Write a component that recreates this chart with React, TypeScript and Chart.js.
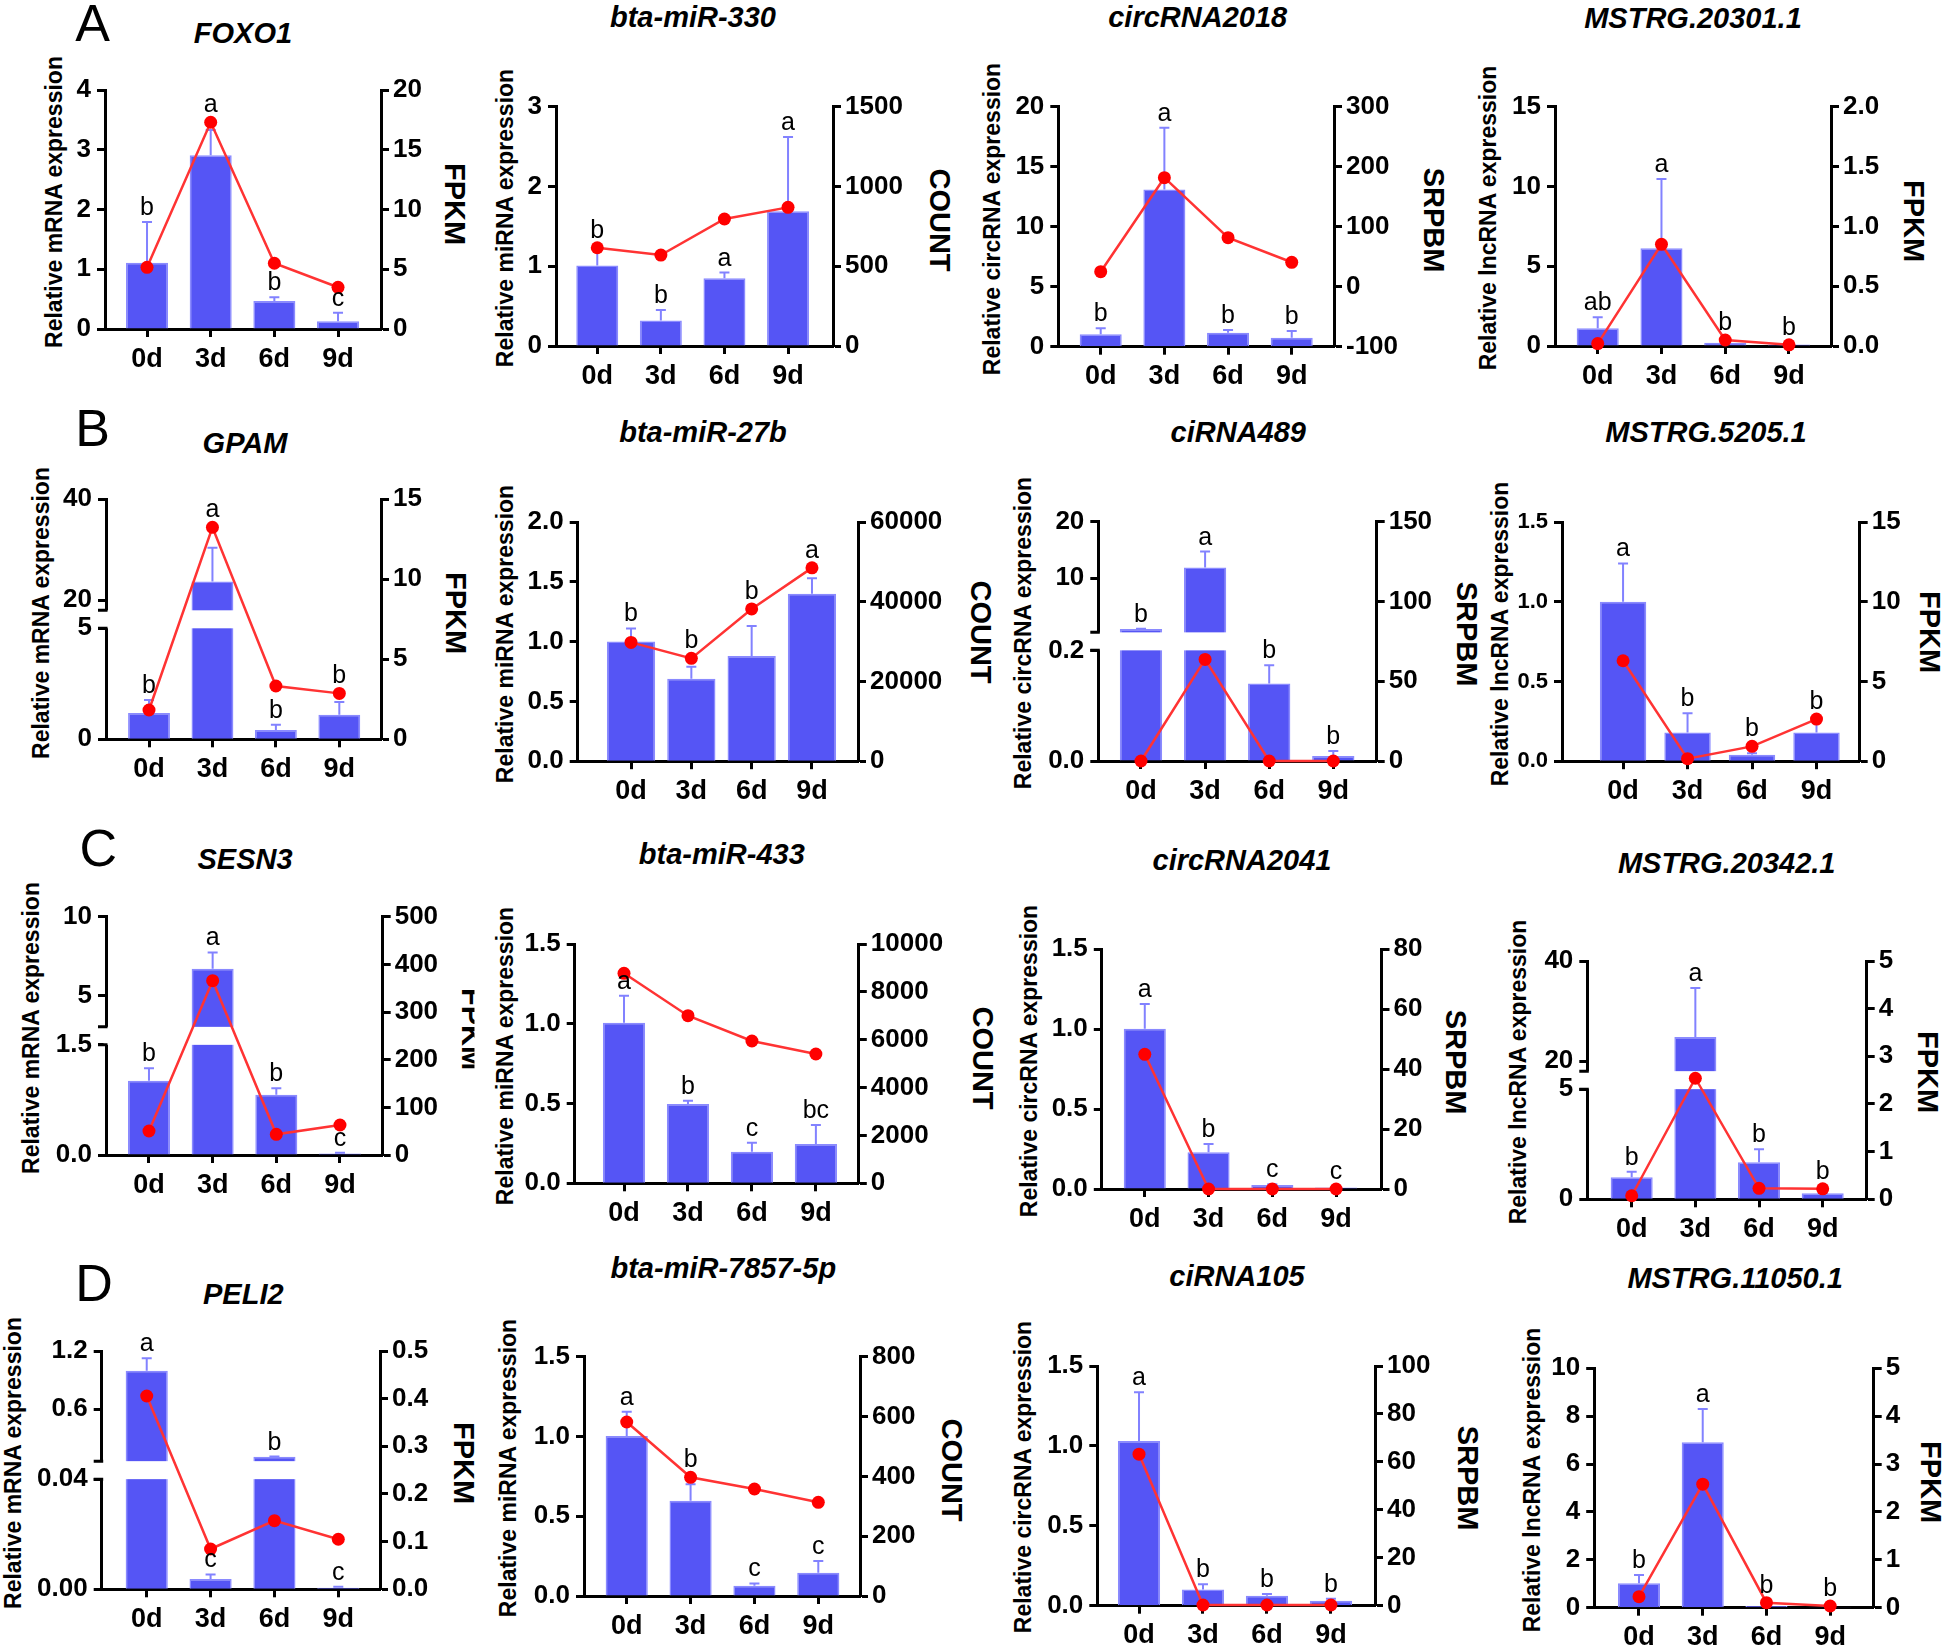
import React, { useEffect, useRef } from 'react';
import { Chart, registerables, LinearScale } from 'chart.js';

Chart.register(...registerables);

/* ---------------- DATA ---------------- */
const CATS = ['0d', '3d', '6d', '9d'];

// Row A
const FOXO1_REL = [1.11, 2.91, 0.47, 0.13];
const FOXO1_SD = [0.68, 0.42, 0.06, 0.14];
const FOXO1_FPKM = [5.16, 17.3, 5.5, 3.49];
const FOXO1_SIG = ['b', 'a', 'b', 'c'];
const FOXO1_YL = ['0', '1', '2', '3', '4'];
const FOXO1_YR = ['0', '5', '10', '15', '20'];

const MIR330_REL = [1.01, 0.32, 0.85, 1.69];
const MIR330_SD = [0.22, 0.13, 0.07, 0.93];
const MIR330_COUNT = [616, 570, 796, 869];
const MIR330_SIG = ['b', 'b', 'a', 'a'];
const MIR330_YL = ['0', '1', '2', '3'];
const MIR330_YR = ['0', '500', '1000', '1500'];

const CIRC2018_REL = [1.03, 13.1, 1.17, 0.75];
const CIRC2018_SD = [0.5, 5.15, 0.22, 0.56];
const CIRC2018_SRPBM = [25, 181.7, 81.7, 40.7];
const CIRC2018_SIG = ['b', 'a', 'b', 'b'];
const CIRC2018_YL = ['0', '5', '10', '15', '20'];
const CIRC2018_YR = ['-100', '0', '100', '200', '300'];

const M20301_REL = [1.11, 6.12, 0.2, 0.1];
const M20301_SD = [0.69, 4.35, 0.05, 0.03];
const M20301_FPKM = [0.02, 0.85, 0.05, 0.01];
const M20301_SIG = ['ab', 'a', 'b', 'b'];
const M20301_YL = ['0', '5', '10', '15'];
const M20301_YR = ['0.0', '0.5', '1.0', '1.5', '2.0'];

// Row B
const GPAM_REL = [1.18, 23.7, 0.42, 1.11];
const GPAM_SD = [0.59, 6.7, 0.23, 0.57];
const GPAM_FPKM = [1.83, 13.25, 3.33, 2.87];
const GPAM_SIG = ['b', 'a', 'b', 'b'];
const GPAM_YL = ['0', '5', '20', '40'];
const GPAM_YR = ['0', '5', '10', '15'];
const GPAM_BREAK = [5, 18];

const MIR27B_REL = [1.0, 0.69, 0.88, 1.4];
const MIR27B_SD = [0.11, 0.1, 0.25, 0.13];
const MIR27B_COUNT = [29800, 25800, 38200, 48500];
const MIR27B_SIG = ['b', 'b', 'b', 'a'];
const MIR27B_YL = ['0.0', '0.5', '1.0', '1.5', '2.0'];
const MIR27B_YR = ['0', '20000', '40000', '60000'];

const CIRNA489_REL = [1.0, 11.87, 0.14, 0.009];
const CIRNA489_SD = [0.05, 2.83, 0.033, 0.009];
const CIRNA489_SRPBM = [0, 63.7, 0, 0];
const CIRNA489_SIG = ['b', 'a', 'b', 'b'];
const CIRNA489_YL = ['0.0', '0.2', '10', '20'];
const CIRNA489_YR = ['0', '50', '100', '150'];
const CIRNA489_BREAK = [0.2, 0.4];

const M5205_REL = [1.0, 0.18, 0.04, 0.18];
const M5205_SD = [0.24, 0.12, 0.01, 0.09];
const M5205_FPKM = [6.3, 0.16, 0.93, 2.64];
const M5205_SIG = ['a', 'b', 'b', 'b'];
const M5205_YL = ['0.0', '0.5', '1.0', '1.5'];
const M5205_YR = ['0', '5', '10', '15'];

// Row C
const SESN3_REL = [1.01, 6.7, 0.82, 0.02];
const SESN3_SD = [0.17, 1.03, 0.09, 0.01];
const SESN3_FPKM = [50.4, 365.7, 43.4, 63];
const SESN3_SIG = ['b', 'a', 'b', 'c'];
const SESN3_YL = ['0.0', '1.5', '5', '10'];
const SESN3_YR = ['0', '100', '200', '300', '400', '500'];
const SESN3_BREAK = [1.5, 3];

const MIR433_REL = [1.006, 0.497, 0.198, 0.246];
const MIR433_SD = [0.17, 0.021, 0.056, 0.12];
const MIR433_COUNT = [8775, 7004, 5947, 5403];
const MIR433_SIG = ['a', 'b', 'c', 'bc'];
const MIR433_YL = ['0.0', '0.5', '1.0', '1.5'];
const MIR433_YR = ['0', '2000', '4000', '6000', '8000', '10000'];

const CIRC2041_REL = [1.003, 0.23, 0.025, 0.01];
const CIRC2041_SD = [0.154, 0.052, 0.005, 0.005];
const CIRC2041_SRPBM = [44.96, 0, 0, 0];
const CIRC2041_SIG = ['a', 'b', 'c', 'c'];
const CIRC2041_YL = ['0.0', '0.5', '1.0', '1.5'];
const CIRC2041_YR = ['0', '20', '40', '60', '80'];

const M20342_REL = [1.0, 24.8, 1.68, 0.27];
const M20342_SD = [0.25, 9.8, 0.59, 0.03];
const M20342_FPKM = [0.075, 2.54, 0.23, 0.22];
const M20342_SIG = ['b', 'a', 'b', 'b'];
const M20342_YL = ['0', '5', '20', '40'];
const M20342_YR = ['0', '1', '2', '3', '4', '5'];
const M20342_BREAK = [5, 18];

// Row D
const PELI2_REL = [0.996, 0.0037, 0.107, 0.0006];
const PELI2_SD = [0.128, 0.0017, 0.002, 0.0003];
const PELI2_FPKM = [0.4056, 0.0846, 0.144, 0.105];
const PELI2_SIG = ['a', 'c', 'b', 'c'];
const PELI2_YL = ['0.00', '0.04', '0.6', '1.2'];
const PELI2_YR = ['0.0', '0.1', '0.2', '0.3', '0.4', '0.5'];
const PELI2_BREAK = [0.04, 0.062];

const MIR7857_REL = [1.003, 0.597, 0.065, 0.146];
const MIR7857_SD = [0.152, 0.103, 0.014, 0.073];
const MIR7857_COUNT = [581.7, 396.8, 357.7, 313.2];
const MIR7857_SIG = ['a', 'b', 'c', 'c'];
const MIR7857_YL = ['0.0', '0.5', '1.0', '1.5'];
const MIR7857_YR = ['0', '200', '400', '600', '800'];

const CIRNA105_REL = [1.03, 0.102, 0.063, 0.031];
const CIRNA105_SD = [0.305, 0.032, 0.01, 0.013];
const CIRNA105_SRPBM = [63.2, 0.3, 0.3, 0.3];
const CIRNA105_SIG = ['a', 'b', 'b', 'b'];
const CIRNA105_YL = ['0.0', '0.5', '1.0', '1.5'];
const CIRNA105_YR = ['0', '20', '40', '60', '80', '100'];

const M11050_REL = [1.02, 6.91, 0.07, 0.03];
const M11050_SD = [0.35, 1.39, 0.02, 0.01];
const M11050_FPKM = [0.23, 2.58, 0.105, 0.035];
const M11050_SIG = ['b', 'a', 'b', 'b'];
const M11050_YL = ['0', '2', '4', '6', '8', '10'];
const M11050_YR = ['0', '1', '2', '3', '4', '5'];

/* ---------------- STYLE / LAYOUT ---------------- */
const FONT = "'Liberation Sans', Arial, Helvetica, sans-serif";
const BAR = '#5555F5';
const BAR_EDGE = '#8A8AFF';
const ERR = '#8282FF';
const RED = '#FF3333';

const MRNA = 'Relative mRNA expression';
const MIRNA = 'Relative miRNA expression';
const CIRC = 'Relative circRNA expression';
const LNC = 'Relative lncRNA expression';

type Lay = {
  L: number; R: number; T: number; B: number; xr: number[]; bar: number;
  tx: number; ty: number; ltx: number; lty: number; rtx: number; rty: number; clip?: boolean; lfs?: number;
};
type Panel = {
  title: string; lt: string; rt: string;
  rel: number[]; sd: number[]; sec: number[]; sig: string[];
  yl: string[]; yr: string[]; brk?: number[]; lay: Lay;
};

const PANELS: Panel[] = [
  { title: 'FOXO1', lt: MRNA, rt: 'FPKM', rel: FOXO1_REL, sd: FOXO1_SD, sec: FOXO1_FPKM, sig: FOXO1_SIG, yl: FOXO1_YL, yr: FOXO1_YR,
    lay: { L: 105, R: 381, T: 90, B: 329, xr: [-0.66, 3.675], bar: 0.66, tx: 243, ty: 33, ltx: 54, lty: 201.5, rtx: 454, rty: 204 } },
  { title: 'bta-miR-330', lt: MIRNA, rt: 'COUNT', rel: MIR330_REL, sd: MIR330_SD, sec: MIR330_COUNT, sig: MIR330_SIG, yl: MIR330_YL, yr: MIR330_YR,
    lay: { L: 556, R: 833, T: 106.7, B: 346, xr: [-0.649, 3.707], bar: 0.66, tx: 693, ty: 16.7, ltx: 505, lty: 218, rtx: 938.5, rty: 220 } },
  { title: 'circRNA2018', lt: CIRC, rt: 'SRPBM', rel: CIRC2018_REL, sd: CIRC2018_SD, sec: CIRC2018_SRPBM, sig: CIRC2018_SIG, yl: CIRC2018_YL, yr: CIRC2018_YR,
    lay: { L: 1058.3, R: 1334, T: 106.7, B: 346.7, xr: [-0.666, 3.664], bar: 0.66, tx: 1197.7, ty: 16.7, ltx: 991.7, lty: 218.5, rtx: 1433, rty: 220 } },
  { title: 'MSTRG.20301.1', lt: LNC, rt: 'FPKM', rel: M20301_REL, sd: M20301_SD, sec: M20301_FPKM, sig: M20301_SIG, yl: M20301_YL, yr: M20301_YR,
    lay: { L: 1555, R: 1831, T: 106.7, B: 346, xr: [-0.67, 3.659], bar: 0.66, tx: 1693, ty: 17.5, ltx: 1487.5, lty: 218, rtx: 1912.5, rty: 221 } },

  { title: 'GPAM', lt: MRNA, rt: 'FPKM', rel: GPAM_REL, sd: GPAM_SD, sec: GPAM_FPKM, sig: GPAM_SIG, yl: GPAM_YL, yr: GPAM_YR, brk: GPAM_BREAK,
    lay: { L: 106, R: 381, T: 499.3, B: 739.3, xr: [-0.678, 3.657], bar: 0.66, tx: 245, ty: 443.3, ltx: 41, lty: 612.5, rtx: 455, rty: 613 } },
  { title: 'bta-miR-27b', lt: MIRNA, rt: 'COUNT', rel: MIR27B_REL, sd: MIR27B_SD, sec: MIR27B_COUNT, sig: MIR27B_SIG, yl: MIR27B_YL, yr: MIR27B_YR,
    lay: { L: 577.7, R: 858, T: 522, B: 761.2, xr: [-0.884, 3.763], bar: 0.8, tx: 703, ty: 431.5, ltx: 504.6, lty: 633.6, rtx: 979.5, rty: 632 } },
  { title: 'ciRNA489', lt: CIRC, rt: 'SRPBM', rel: CIRNA489_REL, sd: CIRNA489_SD, sec: CIRNA489_SRPBM, sig: CIRNA489_SIG, yl: CIRNA489_YL, yr: CIRNA489_YR, brk: CIRNA489_BREAK,
    lay: { L: 1098.3, R: 1376.7, T: 521.7, B: 761, xr: [-0.666, 3.677], bar: 0.66, tx: 1238.3, ty: 431.7, ltx: 1022.5, lty: 633.3, rtx: 1466, rty: 634 } },
  { title: 'MSTRG.5205.1', lt: LNC, rt: 'FPKM', rel: M5205_REL, sd: M5205_SD, sec: M5205_FPKM, sig: M5205_SIG, yl: M5205_YL, yr: M5205_YR,
    lay: { L: 1562, R: 1859.7, T: 522, B: 761.2, xr: [-0.947, 3.67], bar: 0.72, tx: 1706, ty: 431.5, ltx: 1500, lty: 633.5, rtx: 1929, rty: 632, lfs: 22 } },

  { title: 'SESN3', lt: MRNA, rt: 'FPKM', rel: SESN3_REL, sd: SESN3_SD, sec: SESN3_FPKM, sig: SESN3_SIG, yl: SESN3_YL, yr: SESN3_YR, brk: SESN3_BREAK,
    lay: { L: 106, R: 382.7, T: 916.7, B: 1155, xr: [-0.675, 3.671], bar: 0.66, tx: 245, ty: 859.3, ltx: 31, lty: 1027.5, rtx: 470.5, rty: 1029, clip: true } },
  { title: 'bta-miR-433', lt: MIRNA, rt: 'COUNT', rel: MIR433_REL, sd: MIR433_SD, sec: MIR433_COUNT, sig: MIR433_SIG, yl: MIR433_YL, yr: MIR433_YR,
    lay: { L: 574.7, R: 858.8, T: 944, B: 1183.3, xr: [-0.771, 3.671], bar: 0.66, tx: 721.8, ty: 854.2, ltx: 505, lty: 1055.7, rtx: 982, rty: 1058 } },
  { title: 'circRNA2041', lt: CIRC, rt: 'SRPBM', rel: CIRC2041_REL, sd: CIRC2041_SD, sec: CIRC2041_SRPBM, sig: CIRC2041_SIG, yl: CIRC2041_YL, yr: CIRC2041_YR,
    lay: { L: 1101.8, R: 1381.5, T: 949.3, B: 1189, xr: [-0.674, 3.712], bar: 0.66, tx: 1242, ty: 860, ltx: 1029.2, lty: 1060.7, rtx: 1455.4, rty: 1061.7 } },
  { title: 'MSTRG.20342.1', lt: LNC, rt: 'FPKM', rel: M20342_REL, sd: M20342_SD, sec: M20342_FPKM, sig: M20342_SIG, yl: M20342_YL, yr: M20342_YR, brk: M20342_BREAK,
    lay: { L: 1587.3, R: 1866.7, T: 961, B: 1199.3, xr: [-0.697, 3.691], bar: 0.66, tx: 1726.7, ty: 862.5, ltx: 1518.3, lty: 1071.7, rtx: 1926.7, rty: 1071.7 } },

  { title: 'PELI2', lt: MRNA, rt: 'FPKM', rel: PELI2_REL, sd: PELI2_SD, sec: PELI2_FPKM, sig: PELI2_SIG, yl: PELI2_YL, yr: PELI2_YR, brk: PELI2_BREAK,
    lay: { L: 101.7, R: 380, T: 1351, B: 1589.3, xr: [-0.705, 3.653], bar: 0.66, tx: 243.3, ty: 1294, ltx: 12.5, lty: 1463, rtx: 462.5, rty: 1463 } },
  { title: 'bta-miR-7857-5p', lt: MIRNA, rt: 'COUNT', rel: MIR7857_REL, sd: MIR7857_SD, sec: MIR7857_COUNT, sig: MIR7857_SIG, yl: MIR7857_YL, yr: MIR7857_YR,
    lay: { L: 584, R: 860, T: 1356.7, B: 1596, xr: [-0.669, 3.653], bar: 0.66, tx: 723.3, ty: 1267.5, ltx: 508.3, lty: 1468.3, rtx: 950.8, rty: 1470 } },
  { title: 'ciRNA105', lt: CIRC, rt: 'SRPBM', rel: CIRNA105_REL, sd: CIRNA105_SD, sec: CIRNA105_SRPBM, sig: CIRNA105_SIG, yl: CIRNA105_YL, yr: CIRNA105_YR,
    lay: { L: 1097.3, R: 1375, T: 1366, B: 1605.7, xr: [-0.652, 3.689], bar: 0.66, tx: 1237, ty: 1275.8, ltx: 1022.8, lty: 1476.7, rtx: 1466.9, rty: 1478.3 } },
  { title: 'MSTRG.11050.1', lt: LNC, rt: 'FPKM', rel: M11050_REL, sd: M11050_SD, sec: M11050_FPKM, sig: M11050_SIG, yl: M11050_YL, yr: M11050_YR,
    lay: { L: 1594.2, R: 1873.7, T: 1368.3, B: 1607.7, xr: [-0.703, 3.683], bar: 0.66, tx: 1735.2, ty: 1278.3, ltx: 1532.1, lty: 1480, rtx: 1929.6, rty: 1481.7 } },
];

const SECTIONS = [
  { t: 'A', x: 92.5, y: 23.3 },
  { t: 'B', x: 92.5, y: 427.5 },
  { t: 'C', x: 98.3, y: 848.3 },
  { t: 'D', x: 94, y: 1282.5 },
];

/* ---------------- broken y scale ---------------- */
class BrokenScale extends LinearScale {
  static id = 'broken';
  static defaults = LinearScale.defaults;
  getPixelForValue(value: number) {
    const b = (this as any)._brk;
    if (!b || value === null || value === undefined) return super.getPixelForValue(value);
    const top = this.top, bottom = this.bottom;
    const H = bottom - top - b.gap;
    const lowH = H * b.frac;
    const upH = H - lowH;
    if (value <= b.lo) return bottom - ((value - this.min) / (b.lo - this.min)) * lowH;
    if (value >= b.hi) return top + ((this.max - value) / (this.max - b.hi)) * upH;
    return bottom - lowH - ((value - b.lo) / (b.hi - b.lo)) * b.gap;
  }
  getValueForPixel(pixel: number) {
    const b = (this as any)._brk;
    if (!b) return super.getValueForPixel(pixel);
    const H = this.bottom - this.top - b.gap;
    const lowH = H * b.frac;
    const upH = H - lowH;
    if (pixel >= this.bottom - lowH) return this.min + ((this.bottom - pixel) / lowH) * (b.lo - this.min);
    if (pixel <= this.top + upH) return this.max - ((pixel - this.top) / upH) * (this.max - b.hi);
    return b.lo + ((this.bottom - lowH - pixel) / b.gap) * (b.hi - b.lo);
  }
}
Chart.register(BrokenScale as any);
Chart.defaults.font.family = FONT;
Chart.defaults.color = '#000';

const PAD_L = 75, PAD_R = 95, PAD_T = 45, PAD_B = 55;

function geom(l: Lay) {
  const left = Math.floor(l.L - PAD_L);
  const right = Math.ceil(l.R + PAD_R);
  const top = Math.floor(l.T - PAD_T);
  const bottom = Math.ceil(l.B + PAD_B);
  return { left, top, width: right - left, height: bottom - top, WL: l.L - left, WR: right - l.R, PT: l.T - top, HX: bottom - l.B };
}

function decoPlugin(p: Panel) {
  return {
    id: 'deco',
    afterDatasetDraw(chart: any, args: any) {
      if (args.meta.type !== 'bar') return;
      const { ctx, chartArea: a } = chart;
      const ys = chart.scales.y;
      ctx.save();
      ctx.strokeStyle = ERR;
      ctx.lineWidth = 2;
      args.meta.data.forEach((el: any, i: number) => {
        const y0 = ys.getPixelForValue(p.rel[i]);
        const y1 = ys.getPixelForValue(p.rel[i] + p.sd[i]);
        ctx.beginPath();
        ctx.moveTo(el.x, y0);
        ctx.lineTo(el.x, y1);
        ctx.moveTo(el.x - 5, y1);
        ctx.lineTo(el.x + 5, y1);
        ctx.stroke();
      });
      if (p.brk) {
        const yHi = ys.getPixelForValue(p.brk[1]);
        const yLo = ys.getPixelForValue(p.brk[0]);
        ctx.fillStyle = '#fff';
        ctx.fillRect(a.left - 2.5, yHi, a.right - a.left, yLo - yHi);
        ctx.strokeStyle = '#000';
        ctx.lineWidth = 3;
        ctx.beginPath();
        ctx.moveTo(a.left - 8, yHi);
        ctx.lineTo(a.left + 1.5, yHi);
        ctx.moveTo(a.left - 8, yLo);
        ctx.lineTo(a.left + 1.5, yLo);
        ctx.stroke();
      }
      ctx.restore();
    },
    afterDatasetsDraw(chart: any) {
      const { ctx } = chart;
      const ys = chart.scales.y;
      const bars = chart.getDatasetMeta(0).data;
      const pts = chart.getDatasetMeta(1).data;
      ctx.save();
      ctx.font = `25px ${FONT}`;
      ctx.fillStyle = '#000';
      ctx.textAlign = 'center';
      ctx.textBaseline = 'alphabetic';
      bars.forEach((el: any, i: number) => {
        const errPx = ys.getPixelForValue(p.rel[i] + p.sd[i]);
        const pt = pts[i].y;
        let base = errPx - 7;
        if (pt < errPx + 4 && pt > errPx - 22) base = Math.min(base, pt - 10);
        ctx.fillText(p.sig[i], el.x, base);
      });
      ctx.restore();
    },
  };
}

function buildConfig(p: Panel): any {
  const g = geom(p.lay);
  const yv = p.yl.map(Number);
  const rv = p.yr.map(Number);
  const brk = p.brk;
  const tickGrid = { display: true, drawOnChartArea: false, drawTicks: true, tickLength: 8, tickWidth: 3, tickColor: '#000', offset: false };
  const border = { display: true, color: '#000', width: 3 };
  return {
    type: 'bar',
    data: {
      datasets: [
        {
          type: 'bar',
          data: p.rel.map((v, i) => ({ x: i, y: v })),
          backgroundColor: BAR,
          borderColor: BAR_EDGE,
          borderWidth: 1.5,
          categoryPercentage: 1,
          barPercentage: p.lay.bar,
          yAxisID: 'y',
          order: 2,
        },
        {
          type: 'line',
          data: p.sec.map((v, i) => ({ x: i, y: v })),
          yAxisID: 'y2',
          borderColor: RED,
          borderWidth: 2.5,
          pointRadius: 6.5,
          pointBackgroundColor: '#FF0000',
          pointBorderWidth: 0,
          tension: 0,
          clip: false,
          order: 1,
        },
      ],
    },
    plugins: [decoPlugin(p)],
    options: {
      responsive: false,
      animation: false,
      devicePixelRatio: 1,
      events: [],
      layout: { padding: { top: g.PT, left: 0, right: 0, bottom: 0 } },
      plugins: { legend: { display: false }, tooltip: { enabled: false }, title: { display: false } },
      scales: {
        x: {
          type: 'linear',
          position: 'bottom',
          min: p.lay.xr[0],
          max: p.lay.xr[1],
          bounds: 'data',
          offset: false,
          afterBuildTicks: (s: any) => { s.ticks = CATS.map((_, i) => ({ value: i })); },
          ticks: {
            autoSkip: false, maxRotation: 0, minRotation: 0, padding: 6, color: '#000',
            font: { size: 27, weight: 'bold' },
            callback: (v: number) => CATS[v] ?? '',
          },
          grid: tickGrid,
          border,
          afterFit: (s: any) => { s.height = g.HX; },
        },
        y: {
          type: brk ? 'broken' : 'linear',
          position: 'left',
          min: yv[0],
          max: yv[yv.length - 1],
          bounds: 'data',
          beforeUpdate: (s: any) => { s._brk = brk ? { lo: brk[0], hi: brk[1], frac: 0.5, gap: 18 } : null; },
          afterBuildTicks: (s: any) => { s.ticks = yv.map((v) => ({ value: v })); },
          ticks: {
            autoSkip: false, padding: 6, color: '#000',
            font: { size: p.lay.lfs ?? 26, weight: 'bold' },
            callback: (_v: number, i: number) => p.yl[i],
          },
          grid: tickGrid,
          border,
          afterFit: (s: any) => { s.width = g.WL; },
        },
        y2: {
          type: 'linear',
          position: 'right',
          min: rv[0],
          max: rv[rv.length - 1],
          bounds: 'data',
          afterBuildTicks: (s: any) => { s.ticks = rv.map((v) => ({ value: v })); },
          ticks: {
            autoSkip: false, padding: 4, color: '#000',
            font: { size: 26, weight: 'bold' },
            callback: (_v: number, i: number) => p.yr[i],
          },
          grid: tickGrid,
          border,
          afterFit: (s: any) => { s.width = g.WR; },
        },
      },
    },
  };
}

function PanelChart({ p }: { p: Panel }) {
  const ref = useRef<HTMLCanvasElement>(null);
  const g = geom(p.lay);
  useEffect(() => {
    const chart = new Chart(ref.current as HTMLCanvasElement, buildConfig(p));
    return () => chart.destroy();
  }, []);
  return (
    <canvas
      ref={ref}
      width={g.width}
      height={g.height}
      style={{ position: 'absolute', left: g.left, top: g.top, width: g.width, height: g.height }}
    />
  );
}

const txt = (x: number, y: number, font: string, rot: number, extra: any = {}) => ({
  position: 'absolute' as const,
  left: x,
  top: y,
  transform: `translate(-50%, -50%) rotate(${rot}deg)`,
  font,
  lineHeight: 1,
  whiteSpace: 'nowrap' as const,
  color: '#000',
  ...extra,
});

export default function App() {
  return (
    <div style={{ position: 'absolute', left: 0, top: 0, width: 1944, height: 1651, background: '#fff', overflow: 'hidden' }}>
      {PANELS.map((p, i) => (
        <React.Fragment key={i}>
          <div style={txt(p.lay.tx, p.lay.ty, `italic bold 29px ${FONT}`, 0)}>{p.title}</div>
          <div style={txt(p.lay.ltx, p.lay.lty, `bold 23px ${FONT}`, -90)}>{p.lt}</div>
          <div style={txt(p.lay.rtx, p.lay.rty, `bold 29px ${FONT}`, 90, p.lay.clip ? { clipPath: 'inset(38% 0 0 0)' } : {})}>{p.rt}</div>
        </React.Fragment>
      ))}
      {SECTIONS.map((s) => (
        <div key={s.t} style={txt(s.x, s.y, `52px ${FONT}`, 0)}>{s.t}</div>
      ))}
      {PANELS.map((p, i) => (
        <PanelChart key={'c' + i} p={p} />
      ))}
    </div>
  );
}
